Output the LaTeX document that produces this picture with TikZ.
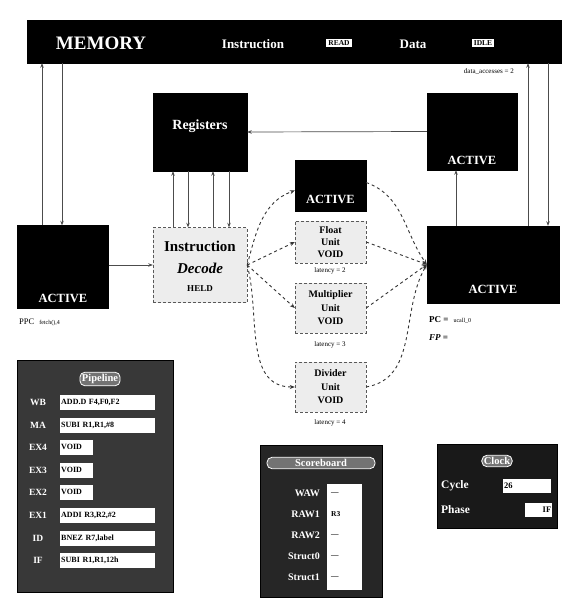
\documentclass[tikz,border=0pt]{standalone}
\usepackage{fontspec}
\setmainfont{Liberation Serif}
\usetikzlibrary{arrows.meta}
\begin{document}
\begin{tikzpicture}[x=1pt,y=-1pt,
  blk/.style={draw=black, fill=black, inner sep=0pt},
  wtxt/.style={text=white, font=\bfseries\fontsize{12.5}{13}\selectfont, inner sep=0pt},
  unitbox/.style={draw=black!65, densely dashed, fill=black!7, inner sep=0pt, align=center},
  conn/.style={draw=black!70, line width=0.7pt, -{Stealth[length=4.5pt,width=3.5pt]}},
  fan/.style={draw=black!80, line width=0.9pt, dashed, -{Stealth[length=5pt,width=4pt]}},
  small/.style={font=\fontsize{7}{8}\selectfont, inner sep=0pt},
  panel/.style={fill=black!78, draw=black, inner sep=0pt},
  plaque/.style={draw=white, line width=0.8pt, rounded corners=5pt, fill=black!55, text=white, font=\bfseries\fontsize{10.5}{11}\selectfont, inner sep=2pt},
  rowlbl/.style={text=white, font=\bfseries\fontsize{9.5}{10}\selectfont, inner sep=0pt},
  rowbox/.style={fill=white, anchor=west, font=\bfseries\fontsize{8}{9}\selectfont, inner sep=1pt, minimum height=15pt, text width=93pt, align=left},
  voidbox/.style={fill=white, anchor=west, font=\bfseries\fontsize{8}{9}\selectfont, inner sep=1pt, minimum height=15pt, text width=31pt, align=left},
  sblbl/.style={text=white, anchor=east, font=\bfseries\fontsize{10}{11}\selectfont, inner sep=0pt},
  sbval/.style={anchor=west, font=\bfseries\fontsize{7.5}{8}\selectfont, inner sep=0pt}
]
\useasboundingbox (0,0) rectangle (566,602);
\fill[white] (0,0) rectangle (566,602);

% helper x positions
\coordinate (c42) at (42,0);
\coordinate (c62) at (62,0);
\coordinate (c173) at (173,0);
\coordinate (c188) at (188,0);
\coordinate (c213) at (213,0);
\coordinate (c229) at (229,0);
\coordinate (c456) at (456,0);
\coordinate (c528) at (528,0);
\coordinate (c548) at (548,0);

% memory
\node[blk, minimum width=534, minimum height=43] (mem) at (294,41.5) {};
\node[text=white, font=\bfseries\fontsize{19}{20}\selectfont, inner sep=0pt] (memt) at (101,43) {MEMORY};
\node[text=white, font=\bfseries\fontsize{13}{14}\selectfont, inner sep=0pt] (instt) at (253,44) {Instruction};
\node[fill=white, text=black, font=\bfseries\fontsize{7.5}{8}\selectfont, inner sep=2pt] (instv) at (339,43) {READ};
\node[text=white, font=\bfseries\fontsize{13}{14}\selectfont, inner sep=0pt] (datat) at (413,44) {Data};
\node[fill=white, text=black, font=\bfseries\fontsize{7.5}{8}\selectfont, inner sep=2pt] (datav) at (483,43) {IDLE};
\node[small, anchor=east] (dacc) at (514,72) {data\_accesses = 2};

% left active
\node[blk, minimum width=91, minimum height=83] (lact) at (63,267) {};
\node[wtxt] (lactt) at ([yshift=10pt]lact.south) {ACTIVE};
\node[anchor=west, inner sep=0pt] (ppc) at (19,322) {{\fontsize{8.5}{9}\selectfont PPC}\ \ {\fontsize{6}{7}\selectfont fetch(),4}};

% registers
\node[blk, minimum width=94, minimum height=78] (reg) at (200,132) {};
\node[text=white, font=\bfseries\fontsize{14}{15}\selectfont, inner sep=0pt] (regt) at (200,126) {Registers};

% decode
\node[unitbox, minimum width=94, minimum height=75] (dec) at (200,265) {};
\node[font=\bfseries\fontsize{15}{16}\selectfont, inner sep=0pt] (dect1) at (200,246) {Instruction};
\node[font=\bfseries\itshape\fontsize{15}{16}\selectfont, inner sep=0pt] (dect2) at (200,268) {Decode};
\node[font=\bfseries\fontsize{9}{10}\selectfont, inner sep=0pt] (dect3) at (200,289) {HELD};

% center column
\node[blk, minimum width=71, minimum height=51] (iact) at (330.5,185.5) {};
\node[wtxt] (iactt) at ([yshift=12pt]iact.south) {ACTIVE};
\node[unitbox, minimum width=71, minimum height=42, font=\bfseries\fontsize{10}{12}\selectfont] (fu) at (330.5,242) {Float\\Unit\\VOID};
\node[small] (lat2) at (330,271) {latency = 2};
\node[unitbox, minimum width=71, minimum height=50, font=\bfseries\fontsize{10}{13.5}\selectfont] (mu) at (330.5,308) {Multiplier\\Unit\\VOID};
\node[small] (lat3) at (330,345) {latency = 3};
\node[unitbox, minimum width=71, minimum height=50, font=\bfseries\fontsize{10}{13.5}\selectfont] (du) at (330.5,387) {Divider\\Unit\\VOID};
\node[small] (lat4) at (330,423) {latency = 4};

% right actives
\node[blk, minimum width=90, minimum height=77] (tact) at (472,131.5) {};
\node[wtxt] (tactt) at ([yshift=10pt]tact.south) {ACTIVE};
\node[blk, minimum width=132, minimum height=77] (bact) at (493,264.5) {};
\node[wtxt] (bactt) at ([yshift=14pt]bact.south) {ACTIVE};
\node[anchor=west, inner sep=0pt] (pc) at (429,320) {{\bfseries\fontsize{9}{10}\selectfont PC =}\ \ {\fontsize{6}{7}\selectfont ucall\_0}};
\node[anchor=west, inner sep=0pt, font=\bfseries\itshape\fontsize{9}{10}\selectfont] (fp) at (429,338) {FP =};

% connectors
\draw[conn] (lact.north -| c42) -- (mem.south -| c42);
\draw[conn] (mem.south -| c62) -- (lact.north -| c62);
\draw[conn] (bact.north -| c528) -- (mem.south -| c528);
\draw[conn] (mem.south -| c548) -- (bact.north -| c548);
\draw[conn] (tact.west) -- (reg.east);
\draw[conn] (bact.north -| c456) -- (tact.south -| c456);
\draw[conn] (dec.north -| c173) -- (reg.south -| c173);
\draw[conn] (reg.south -| c188) -- (dec.north -| c188);
\draw[conn] (dec.north -| c213) -- (reg.south -| c213);
\draw[conn] (reg.south -| c229) -- (dec.north -| c229);
\draw[conn] (lact.east |- dec.west) -- (dec.west);

\draw[fan] (dec.east) to[out=75,in=200] ([yshift=-5pt]iact.west);
\draw[fan] (dec.east) -- (fu.west);
\draw[fan] (dec.east) -- (mu.west);
\draw[fan] (dec.east) to[out=-75,in=180] (du.west);
\draw[fan] ([yshift=3pt]iact.east) to[out=-20,in=125] (bact.west);
\draw[fan] (fu.east) -- (bact.west);
\draw[fan] (mu.east) -- (bact.west);
\draw[fan] (du.east) to[out=10,in=-120] (bact.west);

% pipeline panel
\node[panel, minimum width=156, minimum height=232] (pipe) at (95,476) {};
\node[plaque] (pipet) at (100,379) {Pipeline};
\node[rowlbl] (l1) at (38,402) {WB};   \node[rowbox] (v1) at (60,402) {ADD.D F4,F0,F2};
\node[rowlbl] (l2) at (38,425) {MA};   \node[rowbox] (v2) at (60,425) {SUBI R1,R1,\#8};
\node[rowlbl] (l3) at (38,447) {EX4};  \node[voidbox] (v3) at (60,447) {VOID};
\node[rowlbl] (l4) at (38,470) {EX3};  \node[voidbox] (v4) at (60,470) {VOID};
\node[rowlbl] (l5) at (38,492) {EX2};  \node[voidbox] (v5) at (60,492) {VOID};
\node[rowlbl] (l6) at (38,515) {EX1};  \node[rowbox] (v6) at (60,515) {ADDI R3,R2,\#2};
\node[rowlbl] (l7) at (38,538) {ID};   \node[rowbox] (v7) at (60,538) {BNEZ R7,label};
\node[rowlbl] (l8) at (38,560) {IF};   \node[rowbox] (v8) at (60,560) {SUBI R1,R1,12h};

% scoreboard
\node[panel, fill=black!85, minimum width=122, minimum height=152] (score) at (321,521) {};
\node[plaque, minimum width=108] (scoret) at (321,463) {Scoreboard};
\node[fill=white, minimum width=35, minimum height=106, inner sep=0pt] (sbv) at (344.5,537) {};
\node[sblbl] (s1) at (320,493) {WAW};     \node[sbval] (sv1) at (331,493) {---};
\node[sblbl] (s2) at (320,514) {RAW1};    \node[sbval] (sv2) at (331,514) {R3};
\node[sblbl] (s3) at (320,535) {RAW2};    \node[sbval] (sv3) at (331,535) {---};
\node[sblbl] (s4) at (320,556) {Struct0}; \node[sbval] (sv4) at (331,556) {---};
\node[sblbl] (s5) at (320,577) {Struct1}; \node[sbval] (sv5) at (331,577) {---};

% clock
\node[panel, fill=black!90, minimum width=120, minimum height=84] (clock) at (497,486) {};
\node[plaque] (clockt) at (497,461) {Clock};
\node[text=white, font=\bfseries\fontsize{11.5}{12}\selectfont, inner sep=0pt, anchor=west] (cyc) at (441,486) {Cycle};
\node[fill=white, anchor=west, inner sep=1pt, minimum height=14pt, text width=46pt, align=left, font=\bfseries\fontsize{8.5}{9}\selectfont] (cycv) at (503,486) {26};
\node[text=white, font=\bfseries\fontsize{11.5}{12}\selectfont, inner sep=0pt, anchor=west] (pha) at (441,510) {Phase};
\node[fill=white, anchor=west, inner sep=1pt, minimum height=14pt, text width=25pt, align=right, font=\bfseries\fontsize{8.5}{9}\selectfont] (phav) at (525,510) {IF};
\end{tikzpicture}
\end{document}
